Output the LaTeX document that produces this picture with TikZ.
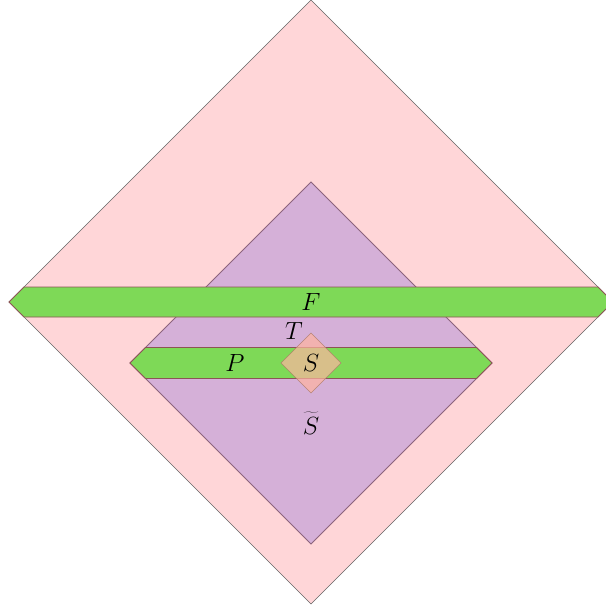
\documentclass[tikz,border=0pt]{standalone}
\begin{document}
\begin{tikzpicture}[x=1pt,y=-1pt,
  lbl/.style={font=\fontsize{24}{28}\selectfont, inner sep=0pt},
  bigdia/.style={fill=pinkfill, draw=gray!80!black, line width=0.6pt},
  middia/.style={fill=purplefill, draw=purpleedge, line width=0.8pt},
  band/.style={fill=bandgreen, draw=bandedge, line width=0.8pt},
  smalldia/.style={fill=salmon, fill opacity=0.7, draw=salmonedge, draw opacity=0.8, line width=0.6pt}]
\definecolor{pinkfill}{RGB}{255,214,216}
\definecolor{purplefill}{RGB}{213,176,216}
\definecolor{purpleedge}{RGB}{140,100,125}
\definecolor{bandgreen}{RGB}{126,217,87}
\definecolor{bandedge}{RGB}{140,85,85}
\definecolor{salmon}{RGB}{255,180,160}
\definecolor{salmonedge}{RGB}{170,120,100}
\useasboundingbox (0,0) rectangle (605,612);
% big diamond
\draw[bigdia] (311,0) -- (613,302) -- (311,604) -- (9,302) -- cycle;
% middle diamond
\draw[middia] (311,182) -- (492,363) -- (311,544) -- (130,363) -- cycle;
% band F
\draw[band] (9,302) -- (24,287) -- (598,287) -- (613,302) -- (598,317) -- (24,317) -- cycle;
% band P
\draw[band] (130,363) -- (145.5,347.5) -- (476.5,347.5) -- (492,363) -- (476.5,378.5) -- (145.5,378.5) -- cycle;
% small diamond
\draw[smalldia] (311,333) -- (341,363) -- (311,393) -- (281,363) -- cycle;
% labels
\node[lbl] (F) at (311,302) {$F$};
\node[lbl] (T) at (294,331) {$T$};
\node[lbl] (P) at (235,363) {$P$};
\node[lbl] (S) at (311,363) {$S$};
\node[lbl, anchor=base] (St) at (311,434) {$\widetilde{\mathstrut S}$};
\end{tikzpicture}
\end{document}
